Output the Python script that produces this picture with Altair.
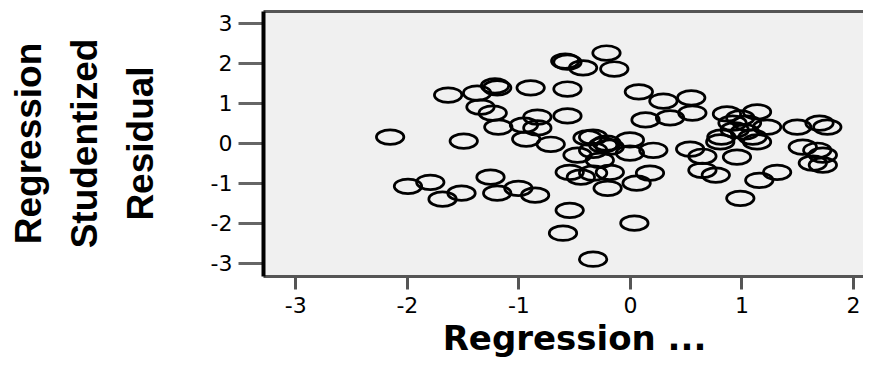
import altair as alt
import pandas as pd

# Predicted values (x) and studentized residuals (y)
x_vals = [
    -2.15, -1.49, -1.63, -1.37, -1.21, -1.19, -0.89, -0.56, -1.34, -1.23,
    -0.83, -0.56, -1.18, -0.95, -0.83, -0.93, -0.71, -0.58, -0.56, -0.42,
    -0.21, -0.14, -0.38, -0.24,
    -0.47, -0.33, -0.18, 0.00, 0.21, -0.54, -0.44, -0.33, -0.18, -0.20,
    0.06, 0.18, -0.33, 0.00, -0.27, -0.21, -0.54, -0.60, -0.33, 0.04,
    -1.99, -1.79, -1.68, -1.51, -1.25, -1.19, -1.00, -0.85,
    0.08, 0.30, 0.55, 0.14, 0.36, 0.56, 0.87, 1.14, 0.92, 1.05,
    1.23, 0.82, 1.10, 1.50, 1.70, 1.77, 0.54, 0.65, 0.65, 0.77,
    0.96, 0.81, 1.14, 0.99, 1.16, 1.32, 1.55, 1.68, 1.73, 1.64,
    1.73, 0.99, 1.03, 0.94,
]
y_vals = [
    0.15, 0.05, 1.20, 1.25, 1.43, 1.38, 1.38, 1.35, 0.90, 0.75,
    0.65, 0.68, 0.40, 0.45, 0.38, 0.10, -0.03, 2.05, 2.02, 1.88,
    2.25, 1.85, 0.13, -0.05,
    -0.30, -0.18, -0.10, -0.25, -0.18, -0.73, -0.85, -0.75, -0.73, -1.13,
    -1.00, -0.75, 0.15, 0.08, -0.43, 0.00, -1.68, -2.25, -2.90, -2.00,
    -1.08, -0.98, -1.40, -1.25, -0.85, -1.25, -1.13, -1.30,
    1.28, 1.05, 1.13, 0.58, 0.63, 0.75, 0.73, 0.78, 0.50, 0.50,
    0.40, 0.15, 0.15, 0.40, 0.50, 0.40, -0.15, -0.33, -0.68, -0.80,
    -0.35, 0.03, 0.03, -1.38, -0.93, -0.73, -0.10, -0.18, -0.30, -0.50,
    -0.55, 0.63, 0.28, 0.33,
]

x_ticks = [-3, -2, -1, 0, 1, 2]
y_ticks = [-3, -2, -1, 0, 1, 2, 3]
x_domain = [-3.29, 2.09]
y_domain = [-3.32, 3.3]
y_title = ["Regression", "Studentized", "Residual"]
x_title = "Regression ..."

df = pd.DataFrame({"x": x_vals, "y": y_vals})

ellipse = "M-1,0A1,0.53,0,1,0,1,0A1,0.53,0,1,0,-1,0Z"
minus_fix = "replace(datum.label, '\u2212', '-')"

xscale = alt.Scale(domain=x_domain, nice=False, zero=False)
yscale = alt.Scale(domain=y_domain, nice=False, zero=False)

points = alt.Chart(df).mark_point(
    shape=ellipse, size=756, filled=False, stroke="black",
    strokeWidth=2.7, opacity=1
).encode(
    x=alt.X("x:Q", scale=xscale, axis=alt.Axis(
        orient="bottom", values=x_ticks, grid=False,
        tickSize=13, tickWidth=3, tickColor="#555",
        domainColor="#555", domainWidth=3,
        labelFont="DejaVu Sans", labelFontSize=22, labelColor="black",
        labelPadding=6, labelOverlap=False, labelFlush=False, labelExpr=minus_fix,
        title=x_title, titleFont="DejaVu Sans", titleFontSize=34,
        titleFontWeight="bold", titleColor="black",
        titleX=311, titleY=73, titleAlign="center", titleBaseline="alphabetic",
    )),
    y=alt.Y("y:Q", scale=yscale, axis=alt.Axis(
        values=y_ticks, grid=False,
        tickSize=25, tickWidth=3, tickColor="#666",
        domainColor="black", domainWidth=4,
        labelFont="DejaVu Sans", labelFontSize=22, labelColor="black",
        labelPadding=6, labelOverlap=False, labelFlush=False, labelExpr=minus_fix,
        title=y_title, titleFont="Liberation Sans",
        titleFontSize=37, titleFontWeight="bold", titleColor="black",
        titleAngle=270, titleX=-252, titleY=132, titleAlign="center",
        titleBaseline="top", titleLineHeight=56,
    )),
)

top = alt.Chart(df).mark_point(opacity=0).encode(
    x=alt.X("x:Q", scale=xscale, axis=alt.Axis(
        orient="top", labels=False, ticks=False, grid=False, title=None,
        domain=True, domainColor="#555", domainWidth=3,
    )),
)

chart = alt.layer(points, top).resolve_axis(x="independent").properties(
    width=600, height=265,
    autosize=alt.AutoSizeParams(type="none"),
    padding={"left": 255, "top": 3, "right": 0, "bottom": 82},
).configure_view(fill="#f0f0f0", stroke=None)

chart.save("out.html", embed_options={"renderer": "svg", "actions": False})
